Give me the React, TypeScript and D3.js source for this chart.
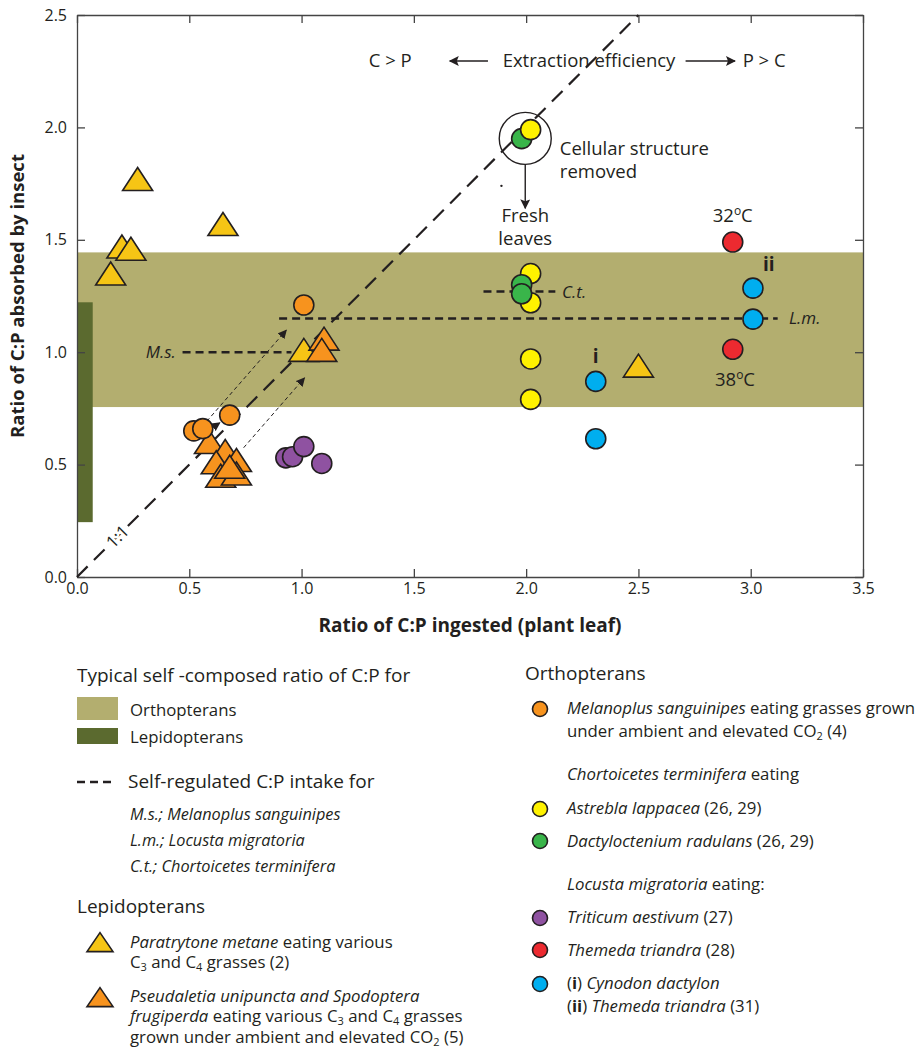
import { useEffect, useRef } from "react";
import * as d3 from "d3";

const WIDTH = 917;
const HEIGHT = 1051;
const MARGIN = { top: 15, right: 54, bottom: 474, left: 77 };
const FONT = "'Open Sans', 'Noto Sans', sans-serif";
const TICK_FONT = "'Liberation Sans Narrow', 'Open Sans', sans-serif";
const INK = "#231f20";

// each point: [C:P ingested, C:P absorbed]
const paratrytone: [number, number][] = [
  [0.27, 1.76], [0.65, 1.56], [0.2, 1.46], [0.24, 1.45], [0.15, 1.34], [1.01, 1.0], [2.5, 0.93],
];
const pseudaletia: [number, number][] = [
  [1.1, 1.05], [1.09, 1.0], [0.59, 0.59], [0.66, 0.55], [0.62, 0.5], [0.71, 0.51],
  [0.64, 0.44], [0.71, 0.45], [0.68, 0.48],
];
const melanoplus: [number, number][] = [[1.01, 1.21], [0.68, 0.72], [0.52, 0.65], [0.56, 0.66]];
const triticum: [number, number][] = [[0.93, 0.53], [0.96, 0.535], [1.01, 0.58], [1.09, 0.505]];
const astrebla: [number, number][] = [[2.02, 1.99], [2.02, 1.35], [2.02, 1.22], [2.02, 0.97], [2.02, 0.79]];
const dactyloctenium: [number, number][] = [[1.98, 1.95], [1.98, 1.3], [1.98, 1.26]];
const cynodon: [number, number][] = [[2.31, 0.87], [2.31, 0.615], [3.01, 1.285], [3.01, 1.147]];
const themeda: [number, number][] = [[2.92, 1.49], [2.92, 1.013]];

const xTicks = [0, 0.5, 1, 1.5, 2, 2.5, 3, 3.5];
const yTicks = [0, 0.5, 1, 1.5, 2, 2.5];

// typical self-composed C:P ranges
const orthopteranBand = [0.756, 1.444];
const lepidopteranBand = { x: [0, 0.07], y: [0.244, 1.222] };

// self-regulated intake lines
const selfRegulated = [
  { label: "M.s.", y: 1.0, x0: 0.47, x1: 0.955, labelX: 0.44, anchor: "end" },
  { label: "L.m.", y: 1.15, x0: 0.9, x1: 3.12, labelX: 3.17, anchor: "start" },
  { label: "C.t.", y: 1.27, x0: 1.81, x1: 2.13, labelX: 2.16, anchor: "start" },
];

// shift arrows (from -> to)
const shiftArrows: [number, number, number, number][] = [
  [0.516, 0.622, 0.932, 1.098],
  [0.742, 0.575, 1.013, 0.886],
  [0.569, 0.64, 0.636, 0.686],
];

const COLORS = {
  orthoBand: "#b3ae6f",
  lepiBand: "#5b6a2f",
  paratrytone: "#f6c515",
  pseudaletia: "#f7931e",
  melanoplus: "#f7931e",
  astrebla: "#fff200",
  dactyloctenium: "#39b54a",
  triticum: "#8f52a1",
  themeda: "#ec2a30",
  cynodon: "#00aeef",
};

const triPath = (w: number, h: number) => `M0,${-h * 0.6}L${w / 2},${h * 0.4}L${-w / 2},${h * 0.4}Z`;

const Circle = ({ x, y, fill, r = 10 }: { x: number; y: number; fill: string; r?: number }) => (
  <circle cx={x} cy={y} r={r} fill={fill} stroke={INK} strokeWidth={1.6} />
);

const Triangle = ({ x, y, fill, w = 30, h = 23 }: { x: number; y: number; fill: string; w?: number; h?: number }) => (
  <path d={triPath(w, h)} transform={`translate(${x},${y})`} fill={fill} stroke={INK} strokeWidth={1.6} />
);

export default function App() {
  const axesRef = useRef<SVGGElement>(null);

  const xScale = d3.scaleLinear().domain([0, 3.5]).range([MARGIN.left, WIDTH - MARGIN.right]);
  const yScale = d3.scaleLinear().domain([0, 2.5]).range([HEIGHT - MARGIN.bottom, MARGIN.top]);

  useEffect(() => {
    if (!axesRef.current) return;
    const g = d3.select(axesRef.current);
    g.selectAll("*").remove();

    const fmt = d3.format(".1f");
    g.append("g")
      .attr("transform", `translate(0,${yScale(0)})`)
      .call(d3.axisBottom(xScale).tickValues(xTicks).tickFormat((d) => fmt(d as number)).tickSizeInner(-8).tickSizeOuter(0).tickPadding(6));
    g.append("g")
      .attr("transform", `translate(0,${yScale(2.5)})`)
      .call(d3.axisTop(xScale).tickValues(xTicks).tickFormat(() => "").tickSizeInner(-8).tickSizeOuter(0));
    g.append("g")
      .attr("transform", `translate(${xScale(0)},0)`)
      .call(d3.axisLeft(yScale).tickValues(yTicks).tickFormat((d) => fmt(d as number)).tickSizeInner(-8).tickSizeOuter(0).tickPadding(10));
    g.append("g")
      .attr("transform", `translate(${xScale(3.5)},0)`)
      .call(d3.axisRight(yScale).tickValues(yTicks).tickFormat(() => "").tickSizeInner(-8).tickSizeOuter(0));

    g.selectAll("path, line").attr("stroke", "#444").attr("stroke-width", 1.3);
    // drop the empty labels of the top and right axes
    g.selectAll("text").filter(function () { return !(this as SVGTextElement).textContent; }).remove();
    g.selectAll("text").attr("font-family", TICK_FONT).attr("font-size", 16).attr("fill", INK);
  }, []);

  const px = (p: [number, number]) => ({ x: xScale(p[0]), y: yScale(p[1]) });

  return (
    <svg width={WIDTH} height={HEIGHT} style={{ position: "absolute", left: 0, top: 0, background: "#fff" }} fontFamily={FONT}>
      <defs>
        <marker id="headSmall" viewBox="0 0 10 10" refX="9" refY="5" markerWidth="9" markerHeight="9" markerUnits="userSpaceOnUse" orient="auto">
          <path d="M0,0L10,5L0,10Z" fill={INK} />
        </marker>
        <marker id="headBig" viewBox="0 0 10 10" refX="9" refY="5" markerWidth="12" markerHeight="10" markerUnits="userSpaceOnUse" orient="auto">
          <path d="M0,0L10,5L0,10L2,5Z" fill={INK} />
        </marker>
      </defs>

      {/* bands */}
      <rect
        x={xScale(0)}
        y={yScale(orthopteranBand[1])}
        width={xScale(3.5) - xScale(0)}
        height={yScale(orthopteranBand[0]) - yScale(orthopteranBand[1])}
        fill={COLORS.orthoBand}
      />
      <rect
        x={xScale(lepidopteranBand.x[0])}
        y={yScale(lepidopteranBand.y[1])}
        width={xScale(lepidopteranBand.x[1]) - xScale(lepidopteranBand.x[0])}
        height={yScale(lepidopteranBand.y[0]) - yScale(lepidopteranBand.y[1])}
        fill={COLORS.lepiBand}
      />

      <g ref={axesRef} />

      {/* 1:1 line */}
      <line x1={xScale(0)} y1={yScale(0)} x2={xScale(2.5)} y2={yScale(2.5)} stroke={INK} strokeWidth={2.2} strokeDasharray="15 9" />
      <text
        transform={`translate(${xScale(0.18)},${yScale(0.18)}) rotate(-45)`}
        dy="0.35em"
        fontSize={17}
        textAnchor="middle"
        fill={INK}
        stroke="#fff"
        strokeWidth={5}
        paintOrder="stroke"
      >
        1:1
      </text>

      {/* self-regulated lines */}
      {selfRegulated.map((s) => (
        <g key={s.label}>
          <line x1={xScale(s.x0)} x2={xScale(s.x1)} y1={yScale(s.y)} y2={yScale(s.y)} stroke={INK} strokeWidth={2.4} strokeDasharray="8 5" />
          <text x={xScale(s.labelX)} y={yScale(s.y) + 6} fontSize={17} fontStyle="italic" textAnchor={s.anchor} fill={INK}>
            {s.label}
          </text>
        </g>
      ))}

      {/* shift arrows */}
      {shiftArrows.map((a, i) => (
        <line
          key={i}
          x1={xScale(a[0])}
          y1={yScale(a[1])}
          x2={xScale(a[2])}
          y2={yScale(a[3])}
          stroke={INK}
          strokeWidth={1}
          strokeDasharray="4 3"
          markerEnd="url(#headSmall)"
        />
      ))}

      {/* points */}
      {paratrytone.map((p, i) => <Triangle key={`pt${i}`} {...px(p)} fill={COLORS.paratrytone} />)}
      {pseudaletia.map((p, i) => <Triangle key={`ps${i}`} {...px(p)} fill={COLORS.pseudaletia} />)}
      {melanoplus.map((p, i) => <Circle key={`m${i}`} {...px(p)} fill={COLORS.melanoplus} />)}
      {triticum.map((p, i) => <Circle key={`t${i}`} {...px(p)} fill={COLORS.triticum} />)}
      <Circle {...px(dactyloctenium[0])} fill={COLORS.dactyloctenium} />
      {astrebla.map((p, i) => <Circle key={`a${i}`} {...px(p)} fill={COLORS.astrebla} />)}
      {dactyloctenium.slice(1).map((p, i) => <Circle key={`d${i}`} {...px(p)} fill={COLORS.dactyloctenium} />)}
      {themeda.map((p, i) => <Circle key={`th${i}`} {...px(p)} fill={COLORS.themeda} />)}
      {cynodon.map((p, i) => <Circle key={`c${i}`} {...px(p)} fill={COLORS.cynodon} />)}

      {/* cellular structure removed */}
      <circle cx={xScale(1.996)} cy={yScale(1.951)} r={26} fill="none" stroke={INK} strokeWidth={1.4} />
      <line x1={xScale(1.996)} y1={yScale(1.951) + 26} x2={xScale(1.996)} y2={yScale(1.64)} stroke={INK} strokeWidth={1.4} markerEnd="url(#headBig)" />
      <circle cx={xScale(1.89)} cy={yScale(1.74)} r={1.2} fill={INK} />
      <g fontSize={18.5} fill={INK}>
        <text x={xScale(2.15)} y={yScale(1.877)}>Cellular structure</text>
        <text x={xScale(2.15)} y={yScale(1.775)}>removed</text>
        <text x={xScale(1.996)} y={yScale(1.577)} textAnchor="middle">Fresh</text>
        <text x={xScale(1.996)} y={yScale(1.475)} textAnchor="middle">leaves</text>

        {/* extraction efficiency */}
        <text x={xScale(1.395)} y={67} textAnchor="middle">C &gt; P</text>
        <line x1={xScale(1.83)} y1={61} x2={xScale(1.66)} y2={61} stroke={INK} strokeWidth={1.4} markerEnd="url(#headBig)" />
        <text x={xScale(2.28)} y={67} textAnchor="middle">Extraction efficiency</text>
        <line x1={xScale(2.71)} y1={61} x2={xScale(2.93)} y2={61} stroke={INK} strokeWidth={1.4} markerEnd="url(#headBig)" />
        <text x={xScale(3.06)} y={67} textAnchor="middle">P &gt; C</text>

        {/* temperatures */}
        <text x={xScale(2.92)} y={yScale(1.58)} textAnchor="middle">
          32<tspan dy={-7} fontSize={12}>o</tspan><tspan dy={7}>C</tspan>
        </text>
        <text x={xScale(2.93)} y={yScale(0.85)} textAnchor="middle">
          38<tspan dy={-7} fontSize={12}>o</tspan><tspan dy={7}>C</tspan>
        </text>
      </g>
      <text x={xScale(2.31)} y={yScale(0.95)} fontSize={19} fontWeight="bold" textAnchor="middle" fill={INK}>i</text>
      <text x={xScale(3.08)} y={yScale(1.36)} fontSize={19} fontWeight="bold" textAnchor="middle" fill={INK}>ii</text>

      {/* axis titles */}
      <text transform={`translate(24,${(yScale(0) + yScale(2.5)) / 2}) rotate(-90)`} textAnchor="middle" fontSize={18.5} fontWeight="bold" fill={INK}>
        Ratio of C:P absorbed by insect
      </text>
      <text x={(xScale(0) + xScale(3.5)) / 2} y={632} textAnchor="middle" fontSize={19} fontWeight="bold" fill={INK}>
        Ratio of C:P ingested (plant leaf)
      </text>

      {/* legend, left */}
      <g fill={INK} fontSize={16.8}>
        <text x={77} y={682} fontSize={19}>Typical self -composed ratio of C:P for</text>
        <rect x={77} y={697} width={41} height={23} fill={COLORS.orthoBand} />
        <text x={130} y={716}>Orthopterans</text>
        <rect x={77} y={728} width={41} height={16} fill={COLORS.lepiBand} />
        <text x={130} y={743}>Lepidopterans</text>

        <line x1={77} x2={112} y1={782} y2={782} stroke={INK} strokeWidth={2.4} strokeDasharray="8 5" />
        <text x={128} y={788} fontSize={19}>Self-regulated C:P intake for</text>
        <g fontStyle="italic" fontSize={16.3}>
          <text x={130} y={820}>M.s.; Melanoplus sanguinipes</text>
          <text x={130} y={846}>L.m.; Locusta migratoria</text>
          <text x={130} y={872}>C.t.; Chortoicetes terminifera</text>
        </g>

        <text x={77} y={913} fontSize={19}>Lepidopterans</text>
        <Triangle x={100} y={944} fill={COLORS.paratrytone} w={26} h={19} />
        <text x={130} y={948}>
          <tspan fontStyle="italic">Paratrytone metane</tspan> eating various
        </text>
        <text x={130} y={968}>
          C<tspan dy={3} fontSize={11}>3</tspan><tspan dy={-3}> and C</tspan><tspan dy={3} fontSize={11}>4</tspan>
          <tspan dy={-3}> grasses (2)</tspan>
        </text>
        <Triangle x={100} y={999} fill={COLORS.pseudaletia} w={26} h={19} />
        <text x={130} y={1002} fontStyle="italic">Pseudaletia unipuncta and Spodoptera</text>
        <text x={130} y={1022}>
          <tspan fontStyle="italic">frugiperda</tspan> eating various C<tspan dy={3} fontSize={11}>3</tspan>
          <tspan dy={-3}> and C</tspan><tspan dy={3} fontSize={11}>4</tspan><tspan dy={-3}> grasses</tspan>
        </text>
        <text x={130} y={1043}>
          grown under ambient and elevated CO<tspan dy={3} fontSize={11}>2</tspan><tspan dy={-3}> (5)</tspan>
        </text>
      </g>

      {/* legend, right */}
      <g fill={INK} fontSize={16.8}>
        <text x={525} y={680} fontSize={19}>Orthopterans</text>
        <Circle x={540} y={709} r={7.5} fill={COLORS.melanoplus} />
        <text x={567} y={714}>
          <tspan fontStyle="italic">Melanoplus sanguinipes</tspan> eating grasses grown
        </text>
        <text x={567} y={737}>
          under ambient and elevated CO<tspan dy={3} fontSize={11}>2</tspan><tspan dy={-3}> (4)</tspan>
        </text>
        <text x={567} y={780}>
          <tspan fontStyle="italic">Chortoicetes terminifera</tspan> eating
        </text>
        <Circle x={540} y={809} r={7.5} fill={COLORS.astrebla} />
        <text x={567} y={814}>
          <tspan fontStyle="italic">Astrebla lappacea</tspan> (26, 29)
        </text>
        <Circle x={540} y={841} r={7.5} fill={COLORS.dactyloctenium} />
        <text x={567} y={847}>
          <tspan fontStyle="italic">Dactyloctenium radulans</tspan> (26, 29)
        </text>
        <text x={567} y={890}>
          <tspan fontStyle="italic">Locusta migratoria</tspan> eating:
        </text>
        <Circle x={540} y={918} r={7.5} fill={COLORS.triticum} />
        <text x={567} y={923}>
          <tspan fontStyle="italic">Triticum aestivum</tspan> (27)
        </text>
        <Circle x={540} y={950} r={7.5} fill={COLORS.themeda} />
        <text x={567} y={956}>
          <tspan fontStyle="italic">Themeda triandra</tspan> (28)
        </text>
        <Circle x={540} y={984} r={7.5} fill={COLORS.cynodon} />
        <text x={567} y={989}>
          (<tspan fontWeight="bold">i</tspan>) <tspan fontStyle="italic">Cynodon dactylon</tspan>
        </text>
        <text x={567} y={1012}>
          (<tspan fontWeight="bold">ii</tspan>) <tspan fontStyle="italic">Themeda triandra</tspan> (31)
        </text>
      </g>
    </svg>
  );
}
